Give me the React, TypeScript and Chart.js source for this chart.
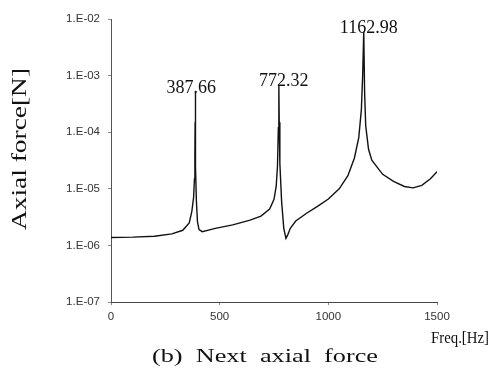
import React, { useEffect, useRef } from "react";
import { Chart, registerables } from "chart.js";

Chart.register(...registerables);

const freqHz = [
  0, 100, 200, 280, 330, 360, 372, 380, 384, 386, 387, 387.66, 388.5, 390, 393, 398, 405, 420,
  480, 560, 640, 690, 730, 750, 760, 766, 770, 772.32, 774, 777, 785, 795, 805, 812, 825, 850,
  900, 950, 1000, 1050, 1090, 1120, 1140, 1152, 1158, 1162.98, 1167, 1172, 1185, 1200, 1250,
  1300, 1350, 1390, 1430, 1470, 1500,
];
const axialForce = [
  1.38e-6, 1.4e-6, 1.45e-6, 1.6e-6, 1.85e-6, 2.5e-6, 4.0e-6, 7e-6, 1.5e-5, 4e-5, 1.5e-4, 5.2e-4,
  1.5e-4, 2.5e-5, 6e-6, 2.6e-6, 1.9e-6, 1.75e-6, 2.0e-6, 2.3e-6, 2.8e-6, 3.3e-6, 4.4e-6, 6.5e-6,
  1.1e-5, 2.5e-5, 1.2e-4, 6.7e-4, 1.5e-4, 2.8e-5, 6e-6, 2.0e-6, 1.33e-6, 1.5e-6, 2.0e-6, 2.7e-6,
  3.7e-6, 4.9e-6, 6.6e-6, 1.0e-5, 1.7e-5, 3.5e-5, 8e-5, 2.5e-4, 1.0e-3, 6.0e-3, 5e-4, 1.3e-4,
  5e-5, 3.2e-5, 1.8e-5, 1.35e-5, 1.1e-5, 1.04e-5, 1.15e-5, 1.5e-5, 2.0e-5,
];
const peakFreqs = [387.66, 772.32, 1162.98];
const peakValues = [5.2e-4, 6.7e-4, 6.0e-3];
const yTickExponents = [-7, -6, -5, -4, -3, -2];
const xTickValues = [0, 500, 1000, 1500];
const yAxisTitle = "Axial force[N]";
const xAxisTitle = "Freq.[Hz]";
const caption = "(b)  Next  axial  force";

const peakLabelDx = [-4, 5, 5];

function drawScaledText(
  ctx: CanvasRenderingContext2D,
  text: string,
  x: number,
  y: number,
  targetWidth: number,
) {
  const w = ctx.measureText(text).width;
  const s = targetWidth / w;
  ctx.save();
  ctx.translate(x, y);
  ctx.scale(s, 1);
  ctx.fillText(text, 0, 0);
  ctx.restore();
}

const annotationsPlugin = {
  id: "annotations",
  afterDraw(chart: any) {
    const ctx = chart.ctx as CanvasRenderingContext2D;
    const xs = chart.scales.x;
    const ys = chart.scales.y;
    ctx.save();
    ctx.fillStyle = "#111";
    // peak labels
    ctx.font = '18px "Liberation Serif", serif';
    ctx.textAlign = "center";
    ctx.textBaseline = "alphabetic";
    peakFreqs.forEach((f, i) => {
      const px = xs.getPixelForValue(f) + peakLabelDx[i];
      const py = ys.getPixelForValue(peakValues[i]) + 1;
      ctx.fillText(f.toFixed(2), px, py);
    });
    // y axis title
    ctx.save();
    ctx.font = '21px "Liberation Serif", serif';
    ctx.textAlign = "left";
    ctx.textBaseline = "middle";
    ctx.translate(20, 149);
    ctx.rotate(-Math.PI / 2);
    const tw = ctx.measureText(yAxisTitle).width;
    ctx.scale(162 / tw, 1);
    ctx.fillText(yAxisTitle, -tw / 2, 0);
    ctx.restore();
    // x axis title
    ctx.font = '16px "Liberation Serif", serif';
    ctx.textAlign = "left";
    ctx.textBaseline = "middle";
    drawScaledText(ctx, xAxisTitle, 431, 339, 58);
    // caption
    ctx.font = '19px "Liberation Serif", serif';
    drawScaledText(ctx, caption, 152, 357, 226);
    ctx.restore();
  },
};

export default function App() {
  const ref = useRef<HTMLCanvasElement>(null);
  useEffect(() => {
    if (!ref.current) return;
    const chart = new Chart(ref.current, {
      type: "line",
      data: {
        datasets: [
          {
            data: freqHz.map((f, i) => ({ x: f, y: axialForce[i] })),
            borderColor: "#111",
            borderWidth: 1.4,
            pointRadius: 0,
            tension: 0,
            fill: false,
          },
        ],
      },
      options: {
        animation: false,
        responsive: false,
        devicePixelRatio: 1,
        layout: { padding: { top: 19, right: 55, left: 0, bottom: 0 } },
        plugins: { legend: { display: false }, tooltip: { enabled: false }, title: { display: false } },
        scales: {
          x: {
            type: "linear",
            min: 0,
            max: 1500,
            afterBuildTicks: (scale: any) => {
              scale.ticks = xTickValues.map((v) => ({ value: v }));
            },
            afterFit: (scale: any) => {
              scale.height = 67;
            },
            grid: { display: true, drawOnChartArea: false, tickLength: 3, color: "#888" },
            border: { display: true, color: "#444", width: 1 },
            ticks: {
              color: "#333",
              padding: 5,
              maxRotation: 0,
              font: { family: '"Liberation Sans", Arial, sans-serif', size: 11.5 },
              callback: (v: any) => String(v),
            },
          },
          y: {
            type: "logarithmic",
            min: 1e-7,
            max: 1e-2,
            afterBuildTicks: (scale: any) => {
              scale.ticks = yTickExponents.map((e) => ({ value: Math.pow(10, e) }));
            },
            afterFit: (scale: any) => {
              scale.width = 111;
            },
            grid: { display: true, drawOnChartArea: false, tickLength: 3, color: "#888" },
            border: { display: true, color: "#555", width: 1 },
            ticks: {
              color: "#333",
              padding: 8,
              font: { family: '"Liberation Sans", Arial, sans-serif', size: 11.5 },
              callback: (v: any) => {
                const e = Math.round(Math.log10(Number(v)));
                const a = Math.abs(e);
                return "1.E-" + (a < 10 ? "0" + a : String(a));
              },
            },
          },
        },
      },
      plugins: [annotationsPlugin],
    });
    return () => chart.destroy();
  }, []);
  return (
    <div style={{ position: "fixed", left: 0, top: 0, width: 492, height: 369, background: "#fff" }}>
      <canvas ref={ref} width={492} height={369} />
    </div>
  );
}
